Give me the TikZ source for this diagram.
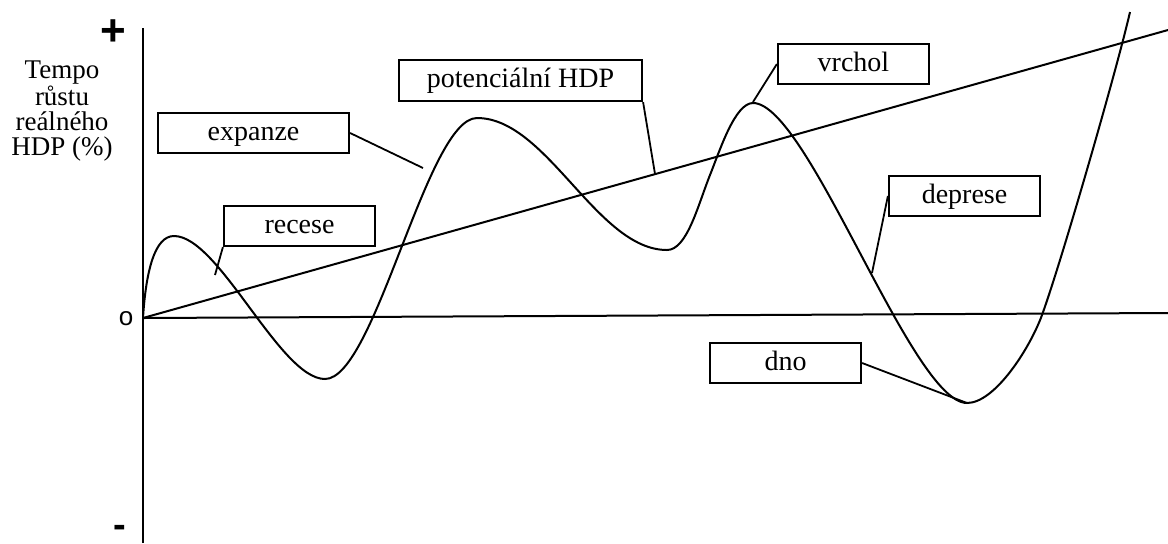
\documentclass[tikz,border=0pt]{standalone}
\usepackage{fontspec}
\setmainfont{Liberation Serif}
\setsansfont{Liberation Sans}
\begin{document}
\begin{tikzpicture}[x=0.5pt,y=-0.5pt,line width=1pt,
  lbox/.style={draw,line width=1.1pt,minimum height=20pt,inner sep=0pt,text height=9pt,text depth=2pt,font=\fontsize{14}{16}\selectfont},
  conn/.style={line width=0.9pt},
  curve/.style={line width=1pt,line join=round}]
\useasboundingbox (0,0) rectangle (1168,543);
% axes
\coordinate (O) at (143,318);
\coordinate (ytop) at (143,28);
\coordinate (ybot) at (143,543);
\coordinate (xend) at (1168,313);
\coordinate (pend) at (1168,30);
\draw (ybot) -- (ytop);
\draw (O) -- (xend);
\draw (O) -- (pend);
% axis labels
\node[font=\sffamily\bfseries\fontsize{22}{22}\selectfont,inner sep=0pt] (plus) at (113,33) {+};
\node[font=\sffamily\fontsize{13}{13}\selectfont,inner sep=0pt] (zero) at (126,319) {o};
\node[font=\sffamily\bfseries\fontsize{19}{19}\selectfont,inner sep=0pt] (minus) at (120,531) {-};
\node[align=center,inner sep=0pt,font=\fontsize{13.5}{12.4}\selectfont] (ylab) at (62,111) {Tempo\\růstu\\reálného\\HDP (\%)};
% cycle curve
\draw[curve] (O) .. controls (146,270) and (155,236) .. (174,236)
  .. controls (219,236) and (280,379) .. (325,379)
  .. controls (375,379) and (427,118) .. (477,118)
  .. controls (547,118) and (597,250) .. (667,250)
  .. controls (687,250) and (698,205) .. (710,175)
  .. controls (720,150) and (735,103) .. (753,103)
  .. controls (808,103) and (912,403) .. (967,403)
  .. controls (995,403) and (1030,348) .. (1042,315)
  .. controls (1062,260) and (1118,65) .. (1130,12);
% label boxes
\node[lbox,minimum width=95.5pt] (expanze) at (253.5,133) {expanze};
\node[lbox,minimum width=75.5pt] (recese) at (299.5,226) {recese};
\node[lbox,minimum width=121.5pt,minimum height=20.5pt] (potenc) at (520.5,80.5) {potenciální HDP};
\node[lbox,minimum width=75.5pt] (vrchol) at (853.5,64) {vrchol};
\node[lbox,minimum width=75.5pt] (deprese) at (964.5,196) {deprese};
\node[lbox,minimum width=75.5pt] (dno) at (785.5,363) {dno};
% connector ends
\coordinate (cexp) at (423,168);
\coordinate (crec) at (215,275);
\coordinate (cpot) at (655,174);
\coordinate (cvrc) at (753,102);
\coordinate (cdep) at (872,273);
\coordinate (cdno) at (967,403);
\draw[conn] (expanze.east) -- (cexp);
\draw[conn] (recese.south west) -- (crec);
\draw[conn] (potenc.south east) -- (cpot);
\draw[conn] (vrchol.west) -- (cvrc);
\draw[conn] (deprese.west) -- (cdep);
\draw[conn] (dno.east) -- (cdno);
\end{tikzpicture}
\end{document}
